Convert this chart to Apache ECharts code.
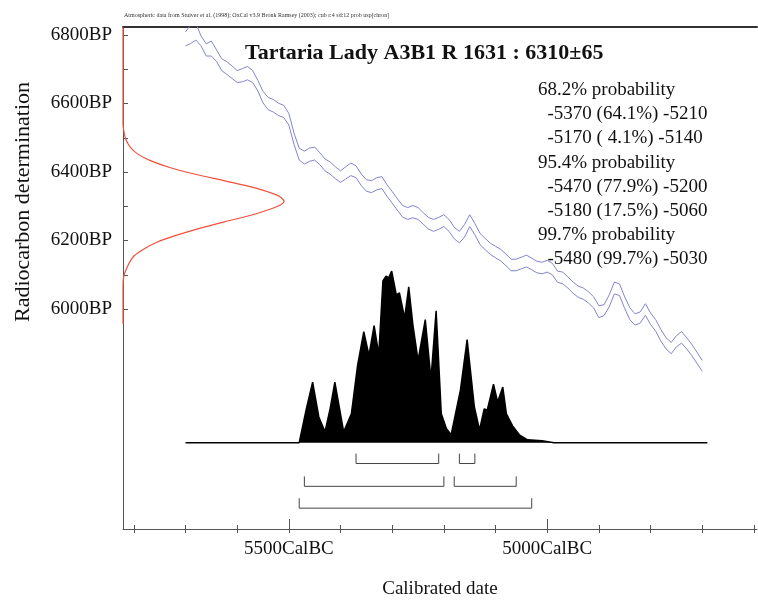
<!DOCTYPE html>
<html><head><meta charset="utf-8">
<script src="https://cdn.jsdelivr.net/npm/echarts@6/dist/echarts.min.js"></script>
<style>html,body{margin:0;padding:0;background:#fff}#c{width:758px;height:604px}</style>
</head><body><div id="c"></div>
<script>
// ---------- data ----------
// calibration curve (IntCal98 band), BP at 10-year steps from -5700 to -4700
const calStart = -5700, calStep = 10;
const calUpper = [6809,6830,6835,6797,6774,6782,6756,6730,6721,6709,
6695,6701,6707,6695,6666,6634,6616,6610,6599,6593,
6569,6511,6467,6458,6467,6470,6453,6435,6426,6412,
6400,6412,6423,6415,6391,6374,6371,6380,6383,6359,
6339,6318,6298,6292,6298,6292,6277,6263,6257,6263,
6271,6257,6234,6222,6242,6271,6245,6216,6201,6187,
6178,6169,6155,6140,6140,6146,6152,6143,6134,6131,
6137,6128,6105,6102,6088,6073,6061,6055,6044,6029,
6003,6006,6035,6073,6067,6029,5997,5979,5985,6009,
5982,5962,5933,5909,5895,5915,5927,5909,5889,5866,
5842];
const calLower = [6768,6775,6785,6768,6738,6738,6722,6695,6684,6672,
6660,6662,6668,6660,6635,6600,6580,6573,6563,6557,
6535,6478,6432,6420,6428,6432,6418,6400,6390,6377,
6366,6376,6386,6380,6357,6340,6336,6344,6348,6325,
6305,6284,6264,6257,6262,6257,6243,6229,6222,6228,
6236,6222,6200,6188,6205,6236,6212,6183,6168,6154,
6144,6135,6121,6106,6106,6112,6117,6109,6100,6097,
6102,6094,6072,6068,6055,6040,6028,6022,6011,5996,
5968,5974,6000,6038,6033,5995,5962,5946,5952,5975,
5948,5928,5899,5876,5862,5882,5893,5876,5856,5833,
5810];

// radiocarbon measurement 6310±65 (relative probability vs BP)
const c14BP  = [5950,6060,6090,6110,6130,6150,6170,6190,6210,6230,6250,6270,6290,6300,6310,6320,6330,6350,6370,6390,6410,6430,6450,6470,6490,6510,6540,6823];
const c14Rel = [0,0,0.005,0.02,0.04,0.07,0.13,0.21,0.33,0.47,0.63,0.80,0.93,0.98,1.00,0.985,0.95,0.82,0.64,0.45,0.29,0.17,0.09,0.045,0.02,0.008,0,0];

// calibrated distribution (year, relative probability)
const distYear = [-5700,-5480,-5477,-5466,-5454,-5442,-5430,-5420,-5411,-5402,-5394,-5379,-5367,-5355,-5345,-5335,-5326,-5318,-5312,-5307,-5301,-5292,-5286,-5276,-5268,-5260,-5250,-5236,-5225,-5215,-5205,-5195,-5186,-5168,-5155,-5141,-5131,-5122,-5116,-5104,-5096,-5086,-5079,-5067,-5054,-5038,-5010,-4987,-4690];
const distProb = [0,0,0.01,0.2,0.353,0.15,0.064,0.2,0.353,0.2,0.064,0.168,0.45,0.647,0.509,0.682,0.514,0.942,0.971,0.96,1.0,0.861,0.873,0.728,0.908,0.688,0.48,0.717,0.37,0.769,0.168,0.081,0.046,0.306,0.601,0.208,0.075,0.197,0.191,0.341,0.237,0.324,0.168,0.098,0.046,0.017,0.012,0,0];

// probability ranges (years BC as negative), one list per confidence level
const range68 = [[-5370,-5210],[-5170,-5140]];
const range95 = [[-5470,-5200],[-5180,-5060]];
const range99 = [[-5480,-5030]];

const titleText = 'Tartaria Lady A3B1 R 1631 : 6310±65';
const creditText = 'Atmospheric data from Stuiver et al. (1998); OxCal v3.9 Bronk Ramsey (2003); cub r:4 sd:12 prob usp[chron]';
const probLines = ['68.2% probability','  -5370 (64.1%) -5210','  -5170 ( 4.1%) -5140','95.4% probability','  -5470 (77.9%) -5200','  -5180 (17.5%) -5060','99.7% probability','  -5480 (99.7%) -5030'];
const yTicks = {min: 6000, max: 6800, step: 100, labelStep: 200};
const xMajor = {min: -5500, max: -5000, step: 500};
const xMinor = {min: -5800, max: -4600, step: 100};

// ---------- layout ----------
const W = 758, H = 604;
const PL = 123, PR = 757, PT = 27, PB = 533;
const X_MIN = -5821, X_MAX = -4594;
const Y_MIN = 5346, Y_MAX = 6823.4;
const xPx = v => PL + (v - X_MIN) / (X_MAX - X_MIN) * (PR - PL);
const yPx = v => PB - (v - Y_MIN) / (Y_MAX - Y_MIN) * (PB - PT);
const BASE_Y = 446, DIST_SCALE = 173; // px per unit relative prob
const RED_SCALE = 161;
const FONT = '"Liberation Serif", "Times New Roman", serif';

const calData = (arr) => arr.map((v, i) => [calStart + i * calStep, v]);
const pxToProb = p => (BASE_Y - p) / DIST_SCALE;
const rowPx = [467, 490, 512];
const tickH = 10;

function bracketSeries(ranges, row) {
  return ranges.map(r => ({
    type: 'line', xAxisIndex: 0, yAxisIndex: 1, silent: true, symbol: 'none', animation: false,
    lineStyle: {color: '#444', width: 1},
    data: [[r[0], pxToProb(rowPx[row] - tickH)], [r[0], pxToProb(rowPx[row])], [r[1], pxToProb(rowPx[row])], [r[1], pxToProb(rowPx[row] - tickH)]]
  }));
}

const chart = echarts.init(document.getElementById('c'), null, {renderer: 'canvas'});
const grid = [
  {left: PL, right: W - PR, top: PT, bottom: H - PB},
  {left: xPx(xMinor.min), right: W - xPx(xMinor.max), top: PT, bottom: H - PB},
  {left: xPx(xMajor.min), right: W - xPx(xMajor.max), top: PT, bottom: H - PB},
  {left: PL, right: W - PR, top: yPx(yTicks.max), bottom: H - yPx(yTicks.min)}
];
const hiddenX = g => ({type: 'value', gridIndex: g, show: false, min: 0, max: 1});
const hiddenY = g => ({type: 'value', gridIndex: g, show: false, min: 0, max: 1});

const option = {
  animation: false,
  backgroundColor: '#fff',
  grid: grid,
  xAxis: [
    {type: 'value', gridIndex: 0, min: X_MIN, max: X_MAX, axisLine: {show: true, onZero: false, lineStyle: {color: '#555', width: 1}},
     axisTick: {show: false}, axisLabel: {show: false}, splitLine: {show: false},
     name: 'Calibrated date', nameLocation: 'middle', nameGap: 51,
     nameTextStyle: {fontFamily: FONT, fontSize: 19, color: '#111'}},
    {type: 'value', gridIndex: 0, position: 'top', min: 0, max: (PR - PL) / RED_SCALE,
     axisLine: {show: true, onZero: false, lineStyle: {color: '#333', width: 2}}, axisTick: {show: false}, axisLabel: {show: false}, splitLine: {show: false}},
    {type: 'value', gridIndex: 1, min: xMinor.min, max: xMinor.max, interval: xMinor.step,
     axisLine: {show: false, onZero: false}, axisTick: {show: true, inside: true, length: 8, lineStyle: {color: '#555'}},
     axisLabel: {show: false}, splitLine: {show: false}},
    {type: 'value', gridIndex: 2, min: xMajor.min, max: xMajor.max, interval: xMajor.step,
     axisLine: {show: false, onZero: false}, axisTick: {show: true, inside: true, length: 14, lineStyle: {color: '#555'}},
     axisLabel: {show: true, margin: 7, fontFamily: FONT, fontSize: 19, color: '#111', formatter: v => Math.abs(v) + 'CalBC'},
     splitLine: {show: false}},
    hiddenX(3)
  ],
  yAxis: [
    {type: 'value', gridIndex: 0, min: Y_MIN, max: Y_MAX, axisLine: {show: true, onZero: false, lineStyle: {color: '#555', width: 1}},
     axisTick: {show: false}, axisLabel: {show: false}, splitLine: {show: false}},
    {type: 'value', gridIndex: 0, show: false, min: -(PB - BASE_Y) / DIST_SCALE, max: (BASE_Y - PT) / DIST_SCALE},
    hiddenY(1), hiddenY(2),
    {type: 'value', gridIndex: 3, min: yTicks.min, max: yTicks.max, interval: yTicks.step,
     axisLine: {show: false, onZero: false}, axisTick: {show: true, inside: true, length: 5, lineStyle: {color: '#555'}},
     axisLabel: {show: true, margin: 11, fontFamily: FONT, fontSize: 19, color: '#111',
       formatter: v => (v % yTicks.labelStep === 0 ? v + 'BP' : '')},
     splitLine: {show: false}}
  ],
  series: [
    {type: 'line', xAxisIndex: 0, yAxisIndex: 0, symbol: 'none', silent: true, data: calData(calUpper),
     lineStyle: {color: '#8383cf', width: 1}},
    {type: 'line', xAxisIndex: 0, yAxisIndex: 0, symbol: 'none', silent: true, data: calData(calLower),
     lineStyle: {color: '#8383cf', width: 1}},
    {type: 'line', xAxisIndex: 1, yAxisIndex: 0, symbol: 'none', silent: true, smooth: 0.3,
     data: c14BP.map((b, i) => [c14Rel[i], b]), lineStyle: {color: '#f0503c', width: 1.2}},
    {type: 'line', xAxisIndex: 0, yAxisIndex: 1, symbol: 'none', silent: true,
     data: distYear.map((y, i) => [y, distProb[i]]),
     lineStyle: {color: '#000', width: 1.5}, areaStyle: {color: '#000', opacity: 1}},
    ...bracketSeries(range68, 0),
    ...bracketSeries(range95, 1),
    ...bracketSeries(range99, 2)
  ],
  graphic: [
    {type: 'text', x: PL + 1, y: 15, style: {text: creditText, font: '6px ' + FONT, fill: '#333', verticalAlign: 'middle'}},
    {type: 'text', x: 245, y: 53, style: {text: titleText, font: 'bold 22px ' + FONT, fill: '#111', verticalAlign: 'middle'}},
    {type: 'text', x: 23, y: 202, rotation: Math.PI / 2,
     style: {text: 'Radiocarbon determination', font: '22px ' + FONT, fill: '#111', align: 'center', verticalAlign: 'middle'}},
    ...probLines.map((t, i) => ({type: 'text', x: 538, y: 90 + i * 24.2,
      style: {text: t, font: '19px ' + FONT, fill: '#111', verticalAlign: 'middle', whiteSpace: 'pre'}}))
  ]
};
chart.setOption(option);
</script></body></html>
